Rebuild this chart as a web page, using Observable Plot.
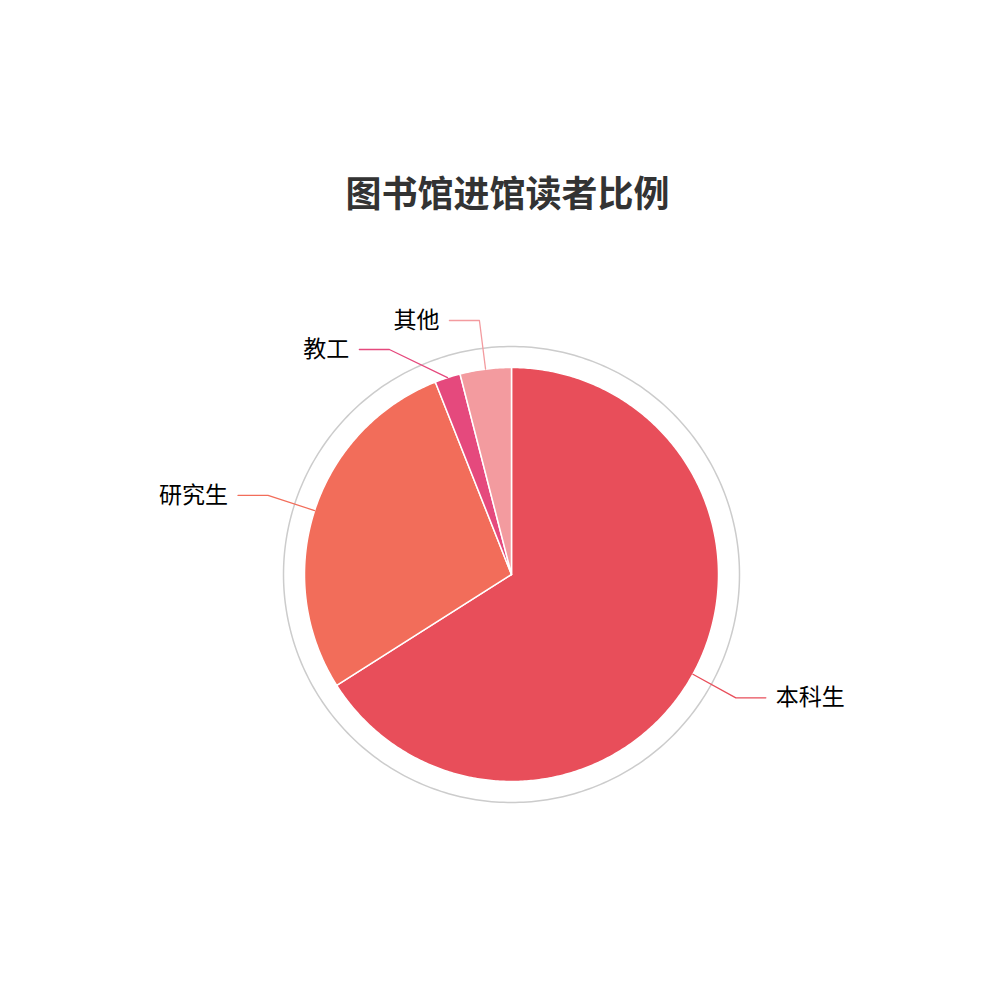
<!DOCTYPE html>
<html>
<head>
<meta charset="utf-8">
<script src="https://cdn.jsdelivr.net/npm/d3@7"></script>
<script src="https://cdn.jsdelivr.net/npm/@observablehq/plot@0.6"></script>
<style>
  html, body { margin: 0; padding: 0; background: #fff; }
  #chart svg { display: block; }
</style>
</head>
<body>
<div id="chart"></div>
<script>
const title = "图书馆进馆读者比例";
const categories = ["本科生", "研究生", "教工", "其他"];
const values = [66, 28, 2, 4];
const palette = ["#e84e5a", "#f26d5a", "#e5497d", "#f39b9f"];

const R = 207, RING = 228, R2 = 256, SEG = 30, GAP = 10, MINSEP = 29;
const total = d3.sum(values);
let acc = 0;
const slices = categories.map((c, i) => {
  const a0 = acc / total * 2 * Math.PI;
  acc += values[i];
  const a1 = acc / total * 2 * Math.PI;
  return { category: c, a0, a1, mid: (a0 + a1) / 2 };
});

const slicePts = [];
for (const s of slices) {
  slicePts.push({ category: s.category, x: 0, y: 0 });
  const n = Math.max(2, Math.ceil((s.a1 - s.a0) / 0.01));
  for (let k = 0; k <= n; k++) {
    const a = s.a0 + (s.a1 - s.a0) * k / n;
    slicePts.push({ category: s.category, x: R * Math.sin(a), y: -R * Math.cos(a) });
  }
  slicePts.push({ category: s.category, x: 0, y: 0 });
}

const ringPts = d3.range(0, 361).map(d => {
  const a = d / 180 * Math.PI;
  return { x: RING * Math.sin(a), y: -RING * Math.cos(a) };
});

// label layout: radial first segment, horizontal second segment, overlap avoidance
const labels = slices.map(s => {
  const x1 = R * Math.sin(s.mid), y1 = -R * Math.cos(s.mid);
  const x2 = R2 * Math.sin(s.mid), y2 = -R2 * Math.cos(s.mid);
  return { category: s.category, x1, y1, x2, y2, right: x2 >= 0 };
});
for (const side of [true, false]) {
  const group = labels.filter(l => l.right === side).sort((a, b) => a.y2 - b.y2);
  for (let i = 1; i < group.length; i++) {
    const prev = group[i - 1], cur = group[i];
    if (cur.y2 < prev.y2 + MINSEP) {
      cur.y2 = prev.y2 + MINSEP;
      if (Math.abs(cur.y2) < R2) {
        const w = Math.sqrt(R2 * R2 - cur.y2 * cur.y2);
        cur.x2 = side ? w : -w;
      }
    }
  }
}
const leaderPts = [];
for (const l of labels) {
  const dir = l.right ? 1 : -1;
  l.x3 = l.x2 + dir * SEG;
  l.tx = l.x3 + dir * GAP;
  leaderPts.push({ category: l.category, x: l.x1, y: l.y1 });
  leaderPts.push({ category: l.category, x: l.x2, y: l.y2 });
  leaderPts.push({ category: l.category, x: l.x3, y: l.y2 });
}

const cx = 511, cy = 574;
const labelStyle = { x: "tx", y: "y2", text: "category", fontSize: 23, fill: "#000" };
const chart = Plot.plot({
  width: 1000,
  height: 1000,
  margin: 0,
  x: { domain: [-cx, 1000 - cx], range: [0, 1000], axis: null },
  y: { domain: [-cy, 1000 - cy], range: [0, 1000], axis: null },
  color: { domain: categories, range: palette },
  style: { fontFamily: "'Noto Sans CJK SC', 'Noto Sans', sans-serif", background: "#fff" },
  marks: [
    Plot.line(ringPts, { x: "x", y: "y", stroke: "#cccccc", strokeWidth: 1.5 }),
    Plot.line(slicePts, { x: "x", y: "y", z: "category", fill: "category", stroke: "#ffffff", strokeWidth: 1.5, strokeLinejoin: "round" }),
    Plot.line(leaderPts, { x: "x", y: "y", z: "category", stroke: "category", strokeWidth: 1.3 }),
    Plot.text(labels.filter(d => d.right), { ...labelStyle, textAnchor: "start" }),
    Plot.text(labels.filter(d => !d.right), { ...labelStyle, textAnchor: "end" }),
    Plot.text([title], {
      frameAnchor: "top", dy: 195, dx: 7, text: d => d,
      fontSize: 36, fontWeight: "bold", fill: "#333", lineAnchor: "middle"
    })
  ]
});
document.getElementById("chart").appendChild(chart);
</script>
</body>
</html>
